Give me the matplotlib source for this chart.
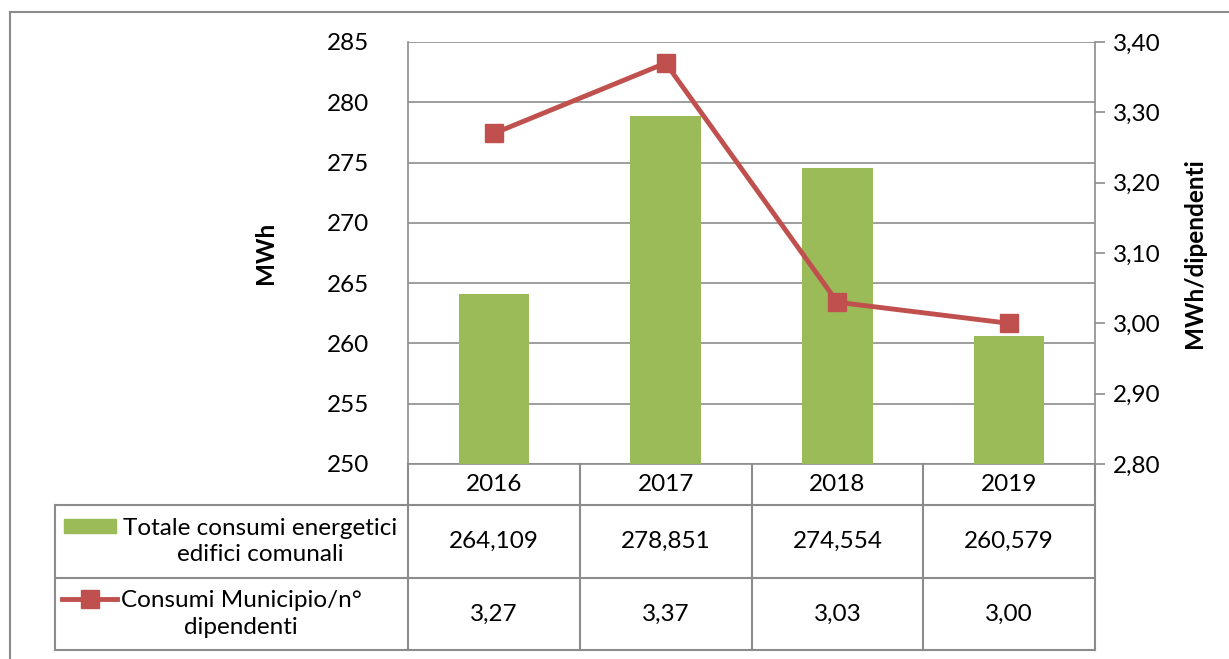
import matplotlib.pyplot as plt
from matplotlib.lines import Line2D
from matplotlib.patches import Rectangle
from matplotlib.ticker import FuncFormatter
from matplotlib.transforms import blended_transform_factory

plt.rcParams['font.family'] = ['Lato', 'DejaVu Sans']

years = ["2016", "2017", "2018", "2019"]
consumi_totali = [264.109, 278.851, 274.554, 260.579]
consumi_per_dipendente = [3.27, 3.37, 3.03, 3.00]
label_barre = "Totale consumi energetici\nedifici comunali"
label_linea = "Consumi Municipio/n°\ndipendenti"

W, H = 1229, 659
GREEN = "#9BBB59"
RED = "#C0504D"
GRAY = "#8C8C8C"
FS = 17.5


def fx(px):
    return px / W


def fy(py):
    return 1 - py / H


def comma(v, decimals):
    return f"{v:.{decimals}f}".replace(".", ",")


fig = plt.figure(figsize=(W / 100, H / 100), dpi=100)

# outer chart frame
fig.add_artist(Rectangle((fx(10), fy(700)), fx(1300), fy(12) - fy(700),
                         transform=fig.transFigure, fill=False,
                         edgecolor=GRAY, lw=1.5))

ax = fig.add_axes([fx(408), fy(464), fx(1095) - fx(408), fy(42) - fy(464)])
x = list(range(len(years)))

ax.bar(x, consumi_totali, width=0.41, color=GREEN, zorder=3)
ax.set_xlim(-0.5, len(years) - 0.5)
ax.set_ylim(250, 285)
ax.set_yticks(range(250, 286, 5))
ax.yaxis.grid(True, color=GRAY, lw=1.2, zorder=0)
ax.set_axisbelow(True)
ax.set_xticks([])
ax.tick_params(axis='y', length=0, labelsize=FS, pad=28)
ax.set_ylabel("MWh", fontsize=FS, fontweight='bold', labelpad=36)
for s in ax.spines.values():
    s.set_color(GRAY)
    s.set_linewidth(1.2)
ax.spines['top'].set_visible(False)

ax2 = ax.twinx()
ax2.plot(x, consumi_per_dipendente, color=RED, lw=3.5, marker='s',
         markersize=13, zorder=4)
ax2.set_ylim(2.8, 3.4)
ax2.set_yticks([2.8 + 0.1 * i for i in range(7)])
ax2.yaxis.set_major_formatter(FuncFormatter(lambda v, p: comma(v, 2)))
ax2.tick_params(axis='y', length=7, width=1.2, color=GRAY, labelsize=FS, pad=6)
ax2.set_ylabel("MWh/dipendenti", fontsize=FS, fontweight='bold', labelpad=16)
for s in ax2.spines.values():
    s.set_visible(False)

# data table below the plot
tr = blended_transform_factory(ax.transData, fig.transFigure)
row_y = [464, 505, 578, 650]
x_left = ax.transData.inverted().transform((55, 0))[0]


def table_line(xs, ys, transform):
    fig.add_artist(Line2D(xs, ys, transform=transform, color=GRAY, lw=1.5))


xr = len(years) - 0.5
for py in row_y[1:]:
    table_line([x_left, xr], [fy(py), fy(py)], tr)
for i in range(len(years) + 1):
    xv = i - 0.5
    table_line([xv, xv], [fy(row_y[0]), fy(row_y[-1])], tr)
table_line([x_left, x_left], [fy(row_y[1]), fy(row_y[-1])], tr)

mid = [(row_y[i] + row_y[i + 1]) / 2 for i in range(3)]
for i, yr in enumerate(years):
    fig.text(i, fy(mid[0]), yr, transform=tr, ha='center', va='center',
             fontsize=FS)
    fig.text(i, fy(mid[1]), comma(consumi_totali[i], 3), transform=tr,
             ha='center', va='center', fontsize=FS)
    fig.text(i, fy(mid[2]), comma(consumi_per_dipendente[i], 2), transform=tr,
             ha='center', va='center', fontsize=FS)

# legend keys inside the table
fig.add_artist(Rectangle((fx(64), fy(533)), fx(116) - fx(64), fy(519) - fy(533),
                         transform=fig.transFigure, color=GREEN))
fig.text(fx(260), fy(mid[1]), label_barre, ha='center', va='center',
         fontsize=FS, linespacing=1.35)
fig.add_artist(Line2D([fx(62), fx(117)], [fy(599), fy(599)],
                      transform=fig.transFigure, color=RED, lw=3.5))
fig.add_artist(Line2D([fx(89.5)], [fy(599)], transform=fig.transFigure,
                      color=RED, marker='s', markersize=13))
fig.text(fx(241), fy(mid[2]), label_linea, ha='center', va='center',
         fontsize=FS, linespacing=1.35)

fig.savefig("out.png", dpi=100)
